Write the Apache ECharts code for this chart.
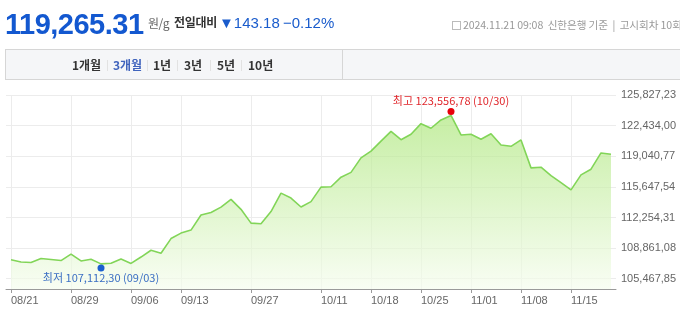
<!DOCTYPE html>
<html>
<head>
<meta charset="utf-8">
<script src="https://cdn.jsdelivr.net/npm/echarts@6/dist/echarts.min.js"></script>
<style>
body{margin:0;width:680px;height:320px;overflow:hidden;background:#fff;font-family:"Noto Sans CJK KR",sans-serif;position:relative;}
#main{position:absolute;left:0;top:0;width:680px;height:320px;}
.t{position:absolute;white-space:nowrap;line-height:1;}
.price{left:5px;top:8px;font:bold 29px "Liberation Sans",Arial,sans-serif;color:#1358d0;letter-spacing:-0.5px;}
.unit{left:148px;top:17px;font-size:12px;color:#666;letter-spacing:-0.5px;}
.cmp{left:174px;top:16px;font-size:12px;font-weight:bold;color:#333;letter-spacing:-0.3px;}
.chg{left:219px;top:14px;font:15px "Liberation Sans",Arial,sans-serif;color:#1a5ccc;}
.pct{left:283px;top:14px;font:15px "Liberation Sans",Arial,sans-serif;color:#1a5ccc;}
.meta{left:452px;top:20px;font-size:10.6px;color:#999;letter-spacing:-0.1px;}
.meta i{display:inline-block;width:9px;height:9px;border:1px solid #bbb;box-sizing:border-box;margin-right:2px;vertical-align:-1px;}
.tabs{position:absolute;left:5px;top:49px;width:700px;height:31px;border:1px solid #d6d6d6;box-sizing:border-box;background:#f5f6f8;}
.tabs .div{position:absolute;left:336px;top:0;width:1px;height:29px;background:#d6d6d6;}
.tab{position:absolute;top:9px;font-size:12px;font-weight:bold;color:#333;line-height:1;}
.tab.on{color:#4064bd;}
.sep{position:absolute;top:10px;width:1px;height:11px;background:#e2e2e2;}
</style>
</head>
<body>
<div id="main"></div>
<span class="t price">119,265.31</span>
<span class="t unit">원/g</span>
<span class="t cmp">전일대비</span>
<span class="t chg">▼143.18</span>
<span class="t pct">−0.12%</span>
<span class="t meta"><i></i>2024.11.21 09:08&nbsp; 신한은행 기준 &nbsp;|&nbsp; 고시회차 10회</span>
<div class="tabs">
  <div class="div"></div>
  <span class="tab" style="left:66px">1개월</span>
  <span class="sep" style="left:101px"></span>
  <span class="tab on" style="left:107px">3개월</span>
  <span class="sep" style="left:141px"></span>
  <span class="tab" style="left:147px">1년</span>
  <span class="sep" style="left:171px"></span>
  <span class="tab" style="left:178px">3년</span>
  <span class="sep" style="left:204px"></span>
  <span class="tab" style="left:211px">5년</span>
  <span class="sep" style="left:235px"></span>
  <span class="tab" style="left:242px">10년</span>
</div>
<script>
// 영업일 날짜
var dates = ['08/21','08/22','08/23','08/26','08/27','08/28','08/29','08/30','09/02','09/03',
    '09/04','09/05','09/06','09/09','09/10','09/11','09/12','09/13','09/19','09/20',
    '09/23','09/24','09/25','09/26','09/27','09/30','10/02','10/04','10/07','10/08',
    '10/10','10/11','10/14','10/15','10/16','10/17','10/18','10/21','10/22','10/23',
    '10/24','10/25','10/28','10/29','10/30','10/31','11/01','11/04','11/05','11/06',
    '11/07','11/08','11/11','11/12','11/13','11/14','11/15','11/18','11/19','11/20','11/21']

// 금 시세 (원/g)
var prices = [107570,107315,107271,107714,107603,107481,108200,107437,107625,107112.30,
    107182,107658,107160,107869,108621,108289,109916,110524,110856,112527,
    112803,113401,114264,113158,111631,111553,112914,114950,114408,113412,
    114010,115614,115658,116721,117252,118856,119608,120715,121799,120870,
    121478,122651,122142,123061,123556.78,121401,121478,120925,121534,120294,
    120140,120848,117750,117827,116886,116112,115315,116975,117606,119408.49,119265.31]

// x축에 보이는 날짜
var shownDates = ['08/21','08/29','09/06','09/13','09/27','10/11','10/18','10/25','11/01','11/08','11/15']

// y축 눈금
var yTicks = [105467.85,108861.08,112254.31,115647.54,119040.77,122434.00,125827.23]
var yMin = 104328
var yMax = 125827.23

function fmt (v) {
    var p = Number(v).toFixed(2).split('.')
    return p[0].replace(/\B(?=(\d{3})+(?!\d))/g, ',') + ',' + p[1]
}

var maxIdx = prices.indexOf(Math.max.apply(null, prices))
var minIdx = prices.indexOf(Math.min.apply(null, prices))

function showDate (i, v) { return shownDates.indexOf(v) >= 0 }

var myChart = echarts.init(document.getElementById('main'))

var option = {
    animation: false,
    grid: {left: 6, right: 64, top: 95, bottom: 31, containLabel: false},
    xAxis: {
        type: 'category',
        data: dates,
        boundaryGap: true,
        axisLine: {lineStyle: {color: '#9a9a9a', width: 1}},
        axisTick: {show: true, alignWithLabel: true, interval: showDate, length: 4, lineStyle: {color: '#9a9a9a'}},
        axisLabel: {interval: showDate, align: 'left', color: '#666', fontSize: 11, margin: 6,
            fontFamily: 'Liberation Sans, Arial, sans-serif', hideOverlap: false},
        splitLine: {show: true, interval: showDate, alignWithLabel: true, lineStyle: {color: '#ececec'}}
    },
    yAxis: {
        type: 'value',
        position: 'right',
        min: yMin,
        max: yMax,
        axisLine: {show: false},
        axisTick: {show: false, customValues: yTicks},
        axisLabel: {customValues: yTicks, formatter: fmt, color: '#666', fontSize: 11, margin: 5,
            fontFamily: 'Liberation Sans, Arial, sans-serif'},
        splitLine: {show: true, lineStyle: {color: '#ececec'}}
    },
    series: [{
        type: 'line',
        data: prices,
        symbol: 'none',
        lineStyle: {color: '#82d558', width: 1.6},
        areaStyle: {
            color: new echarts.graphic.LinearGradient(0, 0, 0, 1, [
                {offset: 0, color: '#ade67c'},
                {offset: 1, color: '#f5fcee'}
            ])
        },
        markPoint: {
            symbol: 'circle',
            symbolSize: 7,
            data: [
                {
                    coord: [maxIdx, prices[maxIdx]],
                    symbolOffset: [0, -4],
                    itemStyle: {color: '#e8000b'},
                    label: {show: true, position: 'top', distance: 2, color: '#e0262b', fontSize: 11,
                        fontFamily: 'Noto Sans CJK KR',
                        formatter: '최고 ' + fmt(prices[maxIdx]) + ' (' + dates[maxIdx] + ')'}
                },
                {
                    coord: [minIdx, prices[minIdx]],
                    symbolOffset: [0, 4],
                    itemStyle: {color: '#1b5fcf'},
                    label: {show: true, position: 'bottom', distance: 1, color: '#3b6fc3', fontSize: 11,
                        fontFamily: 'Noto Sans CJK KR',
                        formatter: '최저 ' + fmt(prices[minIdx]) + ' (' + dates[minIdx] + ')'}
                }
            ]
        }
    }]
}

myChart.setOption(option)
</script>
</body>
</html>
